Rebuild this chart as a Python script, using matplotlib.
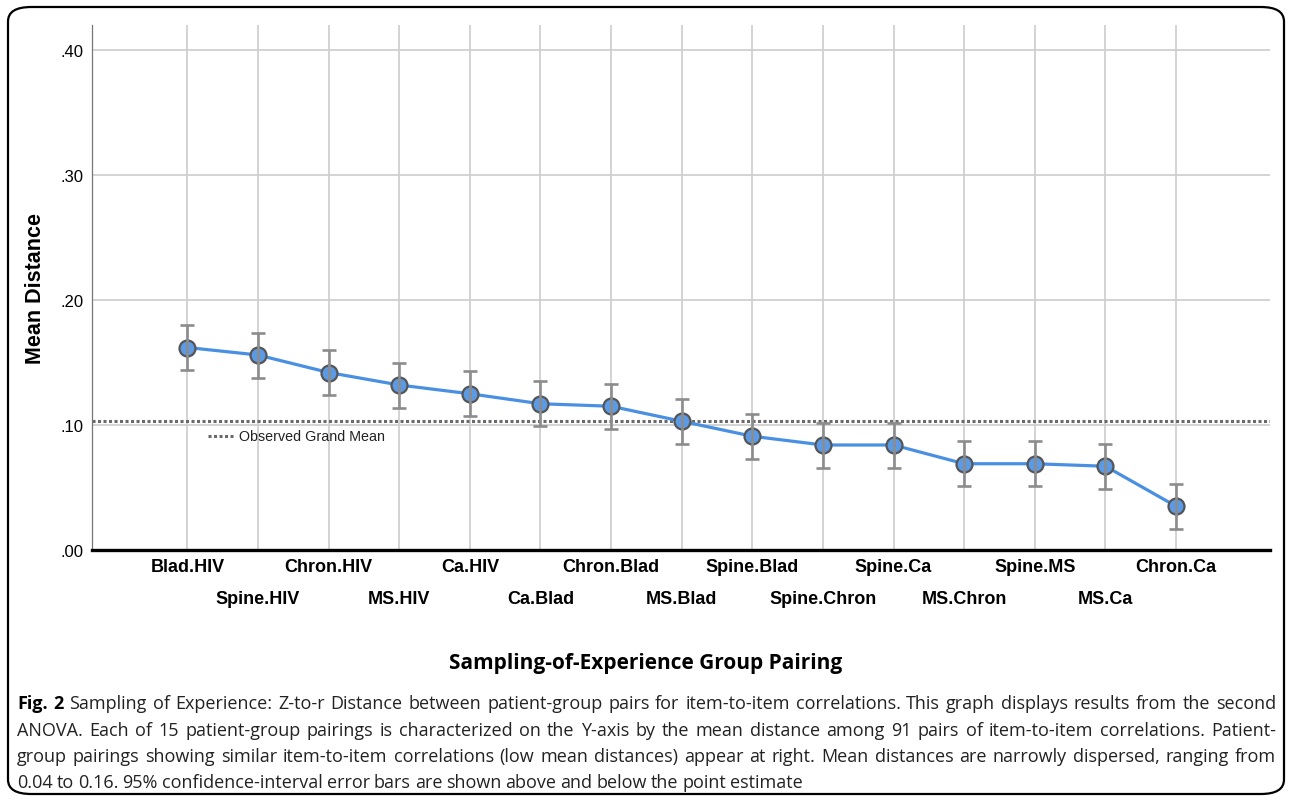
import matplotlib
matplotlib.use("Agg")
import matplotlib.pyplot as plt
from matplotlib.patches import FancyBboxPatch
from matplotlib.lines import Line2D

pairings = ["Blad.HIV", "Spine.HIV", "Chron.HIV", "MS.HIV", "Ca.HIV",
            "Ca.Blad", "Chron.Blad", "MS.Blad", "Spine.Blad", "Spine.Chron",
            "Spine.Ca", "MS.Chron", "Spine.MS", "MS.Ca", "Chron.Ca"]
mean_dist = [0.162, 0.156, 0.142, 0.132, 0.125, 0.117, 0.115, 0.103,
             0.091, 0.084, 0.084, 0.069, 0.069, 0.067, 0.035]
ci_half = [0.018, 0.018, 0.018, 0.018, 0.018, 0.018, 0.018, 0.018,
           0.018, 0.018, 0.018, 0.018, 0.018, 0.018, 0.018]
grand_mean = 0.1034
y_ticks = [0.0, 0.1, 0.2, 0.3, 0.4]
y_tick_labels = [".00", ".10", ".20", ".30", ".40"]

caption = [
    "Fig. 2 Sampling of Experience: Z-to-r Distance between patient-group pairs for item-to-item correlations. This graph displays results from the second",
    "ANOVA. Each of 15 patient-group pairings is characterized on the Y-axis by the mean distance among 91 pairs of item-to-item correlations. Patient-",
    "group pairings showing similar item-to-item correlations (low mean distances) appear at right. Mean distances are narrowly dispersed, ranging from",
    "0.04 to 0.16. 95% confidence-interval error bars are shown above and below the point estimate",
]

fig = plt.figure(figsize=(12.92, 8.03), dpi=100)
W, H = 1292, 803
ax = fig.add_axes([92 / W, 1 - 551 / H, (1270 - 92) / W, (551 - 26) / H])

x = list(range(len(pairings)))
ax.set_xlim(-1.35, len(pairings) + 0.33)
ax.set_ylim(0, 0.42)

# grid
for xi in x:
    ax.axvline(xi, color="#cccccc", lw=1.2, zorder=0)
for yv in y_ticks[1:]:
    ax.axhline(yv, color="#cccccc", lw=1.2, zorder=0)

ax.axhline(grand_mean, color="#6a6a6a", lw=2.2, ls=(0, (1, 0.8)), zorder=1)

ax.errorbar(x, mean_dist, yerr=ci_half, fmt="none", ecolor="#8c8c8c",
            elinewidth=1.9, capsize=5, capthick=1.9, zorder=4)
ax.plot(x, mean_dist, color="#4a90e2", lw=2.3, zorder=2)
ax.plot(x, mean_dist, "o", ms=11.5, mfc="#5b9be6", mec="#555555", mew=1.6,
        zorder=3)

ax.set_yticks(y_ticks)
ax.set_yticklabels(y_tick_labels, fontsize=12, family="Liberation Sans")
ax.tick_params(axis="y", length=0, pad=6)
ax.set_xticks([])
for sp in ["top", "right"]:
    ax.spines[sp].set_visible(False)
ax.spines["left"].set_color("#777777")
ax.spines["left"].set_linewidth(0.9)
ax.spines["bottom"].set_color("black")
ax.spines["bottom"].set_linewidth(2.4)

# alternating category labels
trans = ax.get_xaxis_transform()
for i, lab in enumerate(pairings):
    ypix = 568 if i % 2 == 0 else 600
    ax.text(i, (551 - ypix) / (551 - 26), lab, transform=trans, ha="center",
            va="center", fontsize=13, fontweight="bold",
            family="Liberation Sans", clip_on=False)

fig.text(36 / W, 1 - 288 / H, "Mean Distance", rotation=90, ha="center",
         va="center", fontsize=15.5, fontweight="bold", family="Liberation Sans")

# grand mean legend
fig.add_artist(Line2D([208 / W, 233 / W], [1 - 437 / H, 1 - 437 / H],
                      color="#6a6a6a", lw=2.2, ls=(0, (1, 0.8))))
fig.text(239 / W, 1 - 437 / H, "Observed Grand Mean", ha="left", va="center",
         fontsize=10.3, family="Liberation Sans", color="#222222")

fig.text(646 / W, 1 - 664 / H, "Sampling-of-Experience Group Pairing",
         ha="center", va="center", fontsize=15, fontweight="bold",
         family="Open Sans")

# justified caption, word by word
renderer = fig.canvas.get_renderer()
ys = [704, 731, 757, 783]
left, right = 17, 1276
cap_size = 13
for li, (line, yp) in enumerate(zip(caption, ys)):
    words = line.split(" ")
    arts = []
    for wi, w in enumerate(words):
        bold = li == 0 and wi < 2
        t = fig.text(0, 1 - yp / H, w, ha="left", va="center",
                     fontsize=cap_size, family="Open Sans",
                     fontweight="bold" if bold else "normal",
                     color="black" if bold else "#222222")
        arts.append(t)
    widths = [a.get_window_extent(renderer).width for a in arts]
    if li < len(caption) - 1:
        gap = (right - left - sum(widths)) / (len(words) - 1)
    else:
        gap = 4.0
    xp = left
    for a, w in zip(arts, widths):
        a.set_x(xp / W)
        xp += w + gap

fig.add_artist(FancyBboxPatch((8 / W, 8 / H), (1284 - 8) / W, (795 - 8) / H,
                              boxstyle="round,pad=0,rounding_size=0.018",
                              transform=fig.transFigure, fill=False,
                              ec="black", lw=1.6))

fig.savefig("out.png", dpi=100)
